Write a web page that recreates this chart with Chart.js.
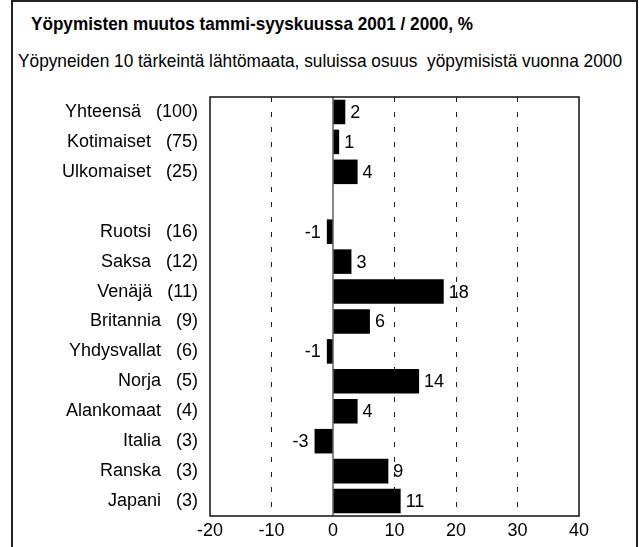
<!DOCTYPE html>
<html>
<head>
<meta charset="utf-8">
<script src="https://cdn.jsdelivr.net/npm/chart.js@4"></script>
<style>
    body { margin: 0; background: #fff; }
    #kehys {
        position: absolute; left: 0; top: 0; width: 639px; height: 547px; overflow: hidden;
        font-family: "Liberation Sans", Arial, sans-serif; color: #000;
    }
    #reuna {
        position: absolute; left: 11px; top: 0px; width: 623px; height: 600px;
        border: 2px solid #222;
    }
    #otsikko {
        position: absolute; left: 31px; top: 13px; font-size: 19px; font-weight: bold;
        white-space: nowrap; transform-origin: 0 0;
    }
    #alaotsikko {
        position: absolute; left: 18px; top: 50px; font-size: 19px;
        white-space: nowrap; transform-origin: 0 0;
    }
    canvas { position: absolute; left: 0; top: 0; }
</style>
</head>
<body>
<div id="kehys">
    <div id="reuna"></div>
    <div id="otsikko">Yöpymisten muutos tammi-syyskuussa 2001 / 2000, %</div>
    <div id="alaotsikko">Yöpyneiden 10 tärkeintä lähtömaata, suluissa osuus&nbsp; yöpymisistä vuonna 2000</div>
    <canvas id="miGrafica" width="639" height="547"></canvas>
</div>
<script>
// data
const maat = ['Yhteensä', 'Kotimaiset', 'Ulkomaiset', '', 'Ruotsi', 'Saksa', 'Venäjä', 'Britannia',
    'Yhdysvallat', 'Norja', 'Alankomaat', 'Italia', 'Ranska', 'Japani'];
const osuudet = [100, 75, 25, null, 16, 12, 11, 9, 6, 5, 4, 3, 3, 3];
const muutos = [2, 1, 4, null, -1, 3, 18, 6, -1, 14, 4, -3, 9, 11];
const xTicks = [-20, -10, 0, 10, 20, 30, 40];

// otsikot leveyteen
function sovita(id, leveys) {
    const el = document.getElementById(id);
    const w = el.getBoundingClientRect().width;
    el.style.transform = 'scaleX(' + (leveys / w) + ')';
}
sovita('otsikko', 442);
sovita('alaotsikko', 604);

const labels = maat.map((m, i) => m === '' ? '' : m + '   (' + osuudet[i] + ')');
const fontti = "'Liberation Sans', Arial, sans-serif";

const kehysPlugin = {
    id: 'kehys',
    afterDatasetsDraw(chart) {
        const ctx = chart.ctx;
        const a = chart.chartArea;
        const x = chart.scales.x;
        ctx.save();
        ctx.strokeStyle = '#111';
        ctx.lineWidth = 1.5;
        ctx.strokeRect(a.left, a.top, a.right - a.left, a.bottom - a.top);
        const x0 = x.getPixelForValue(0);
        ctx.lineWidth = 1;
        ctx.beginPath();
        ctx.moveTo(x0, a.top);
        ctx.lineTo(x0, a.bottom);
        ctx.stroke();

        // arvot palkkien viereen
        ctx.fillStyle = '#000';
        ctx.font = '18px ' + fontti;
        ctx.textBaseline = 'middle';
        chart.getDatasetMeta(0).data.forEach((bar, i) => {
            const v = muutos[i];
            if (v === null) return;
            if (v < 0) {
                ctx.textAlign = 'right';
                ctx.fillText(String(v), bar.x - 6, bar.y + 1);
            } else {
                ctx.textAlign = 'left';
                ctx.fillText(String(v), bar.x + 5, bar.y + 1);
            }
        });
        ctx.restore();
    }
};

const ctx = document.getElementById('miGrafica').getContext('2d');
new Chart(ctx, {
    type: 'bar',
    data: {
        labels: labels,
        datasets: [{
            data: muutos,
            backgroundColor: '#000',
            borderWidth: 0,
            barPercentage: 0.82,
            categoryPercentage: 1
        }]
    },
    options: {
        indexAxis: 'y',
        responsive: false,
        animation: false,
        layout: { padding: { left: 0, top: 97, right: 60, bottom: 0 } },
        plugins: {
            legend: { display: false },
            tooltip: { enabled: false }
        },
        scales: {
            x: {
                min: -20,
                max: 40,
                afterBuildTicks: (s) => { s.ticks = xTicks.map(v => ({ value: v })); },
                afterFit: (s) => { s.height = 31; },
                grid: {
                    drawTicks: false,
                    color: (c) => (c.tick && [-10, 10, 20, 30].includes(c.tick.value)) ? '#222' : 'rgba(0,0,0,0)',
                    lineWidth: 1
                },
                border: { display: false, dash: [5, 10] },
                ticks: {
                    color: '#000',
                    padding: 4,
                    font: { family: fontti, size: 18 }
                }
            },
            y: {
                afterFit: (s) => { s.width = 210; },
                grid: { display: false },
                border: { display: false },
                ticks: {
                    color: '#000',
                    padding: 4,
                    font: { family: fontti, size: 18 }
                }
            }
        }
    },
    plugins: [kehysPlugin]
});
</script>
</body>
</html>
